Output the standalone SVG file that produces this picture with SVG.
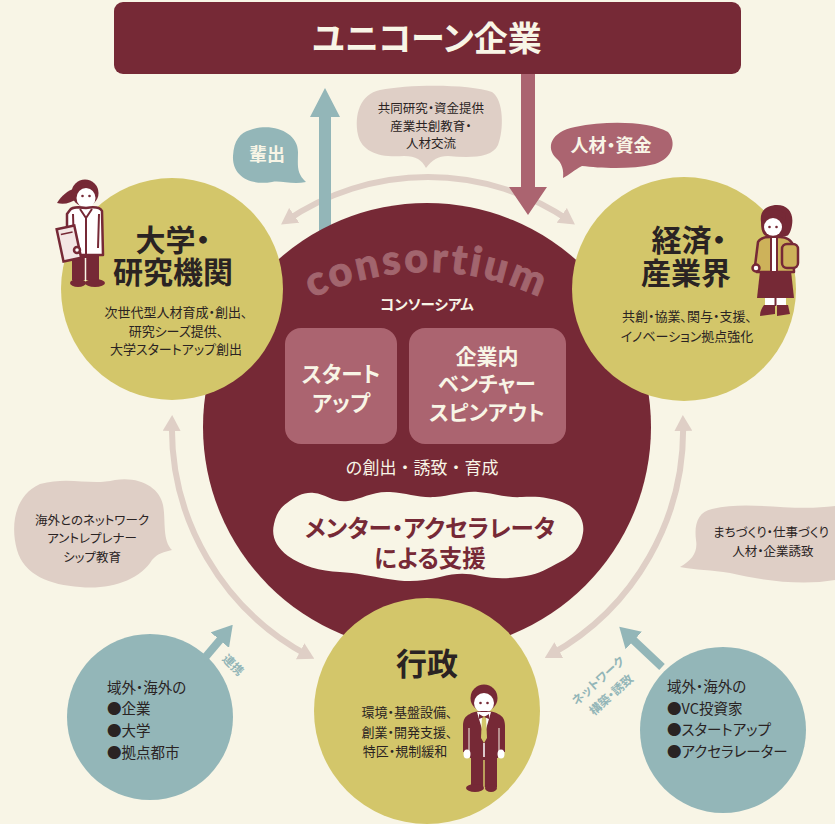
<svg xmlns="http://www.w3.org/2000/svg" width="835" height="824" viewBox="0 0 835 824">
  <style>
    .jp { font-family: "Noto Sans CJK JP", "Noto Sans CJK SC", sans-serif; font-feature-settings: "palt"; }
    .b { font-weight: 700; }
    .dark { fill: #2a2323; }
    .cream { fill: #f8f5e6; }
    .small { font-size: 13px; }
    .bub { font-size: 12.5px; }
    .title { font-size: 30px; font-weight: 700; }
    .mid { text-anchor: middle; }
    .teal-t { fill: #93b6b8; font-size: 12px; font-weight: 700; }
    .list { font-size: 14.5px; }
    .arc { fill: none; stroke: #dfcfc6; stroke-width: 6; }
    .maroon { fill: #762936; }
    .white { fill: #ffffff; }
    .ol { stroke: #762936; stroke-width: 2.5; stroke-linejoin: round; }
  </style>
  <defs>
    <marker id="beigeHead" viewBox="0 0 16 18" refX="10" refY="9" markerWidth="16" markerHeight="18" markerUnits="userSpaceOnUse" orient="auto-start-reverse">
      <path d="M0,0 L16,9 L0,18 Z" fill="#dfcfc6"/>
    </marker>
    <marker id="tealHead" viewBox="0 0 20 24" refX="8" refY="12" markerWidth="20" markerHeight="24" markerUnits="userSpaceOnUse" orient="auto">
      <path d="M0,0 L20,12 L0,24 Z" fill="#93b6b8"/>
    </marker>
    <path id="consortiumArc" d="M 250 340 A 264 264 0 0 1 604 340"/>
  </defs>

  <rect width="835" height="824" fill="#f8f5e6"/>

  <!-- connectors -->
  <g id="connectors">
    <path class="arc" d="M 286 221 A 251 251 0 0 1 570 221" marker-start="url(#beigeHead)" marker-end="url(#beigeHead)"/>
    <path class="arc" d="M 172 421 A 258 258 0 0 0 309 656" marker-start="url(#beigeHead)" marker-end="url(#beigeHead)"/>
    <path class="arc" d="M 683 421 A 258 258 0 0 1 550 655" marker-start="url(#beigeHead)" marker-end="url(#beigeHead)"/>
    <!-- 輩出 upward arrow -->
    <path d="M 319 240 L 319 117 L 310 117 L 325 88 L 340 117 L 331 117 L 331 240 Z" fill="#93b6b8"/>
    <!-- 人材・資金 downward arrow -->
    <path d="M 521 70 L 521 187 L 509 187 L 528 215 L 547 187 L 535 187 L 535 70 Z" fill="#ab6470"/>
  </g>

  <!-- speech bubbles -->
  <g id="bubble-hai">
    <path d="M 250 130 C 272 122, 298 132, 298 152 C 298 165, 296 173, 306 182 C 292 185, 280 180, 272 182 C 250 186, 232 176, 233 156 C 234 140, 240 133, 250 130 Z" fill="#93b6b8"/>
    <text class="jp b cream mid" x="267" y="161" font-size="18">輩出</text>
  </g>
  <g id="bubble-kyodo">
    <path d="M 380 90 C 410 84, 470 84, 492 92 C 504 100, 504 130, 498 145 C 492 158, 470 158, 448 156 C 438 156, 432 160, 426 168 C 422 160, 416 156, 404 156 C 380 158, 362 152, 358 135 C 354 115, 360 94, 380 90 Z" fill="#dfcfc6"/>
    <text class="jp dark mid bub" x="431" y="113">共同研究・資金提供</text>
    <text class="jp dark mid bub" x="431" y="131">産業共創教育・</text>
    <text class="jp dark mid bub" x="431" y="148">人材交流</text>
  </g>
  <g id="bubble-jinzai">
    <path d="M 575 127 C 610 120, 650 122, 668 132 C 677 142, 673 158, 655 164 C 630 170, 600 168, 582 166 C 574 170, 569 175, 563 178 C 564 170, 562 163, 556 158 C 546 148, 550 132, 575 127 Z" fill="#ab6470"/>
    <text class="jp b cream mid" x="611" y="152" font-size="18">人材・資金</text>
  </g>
  <g id="bubble-kaigai">
    <path d="M 40 484 C 70 476, 90 486, 115 480 C 140 476, 160 488, 163 505 C 166 520, 162 540, 172 550 C 164 552, 158 553, 152 560 C 140 580, 110 590, 80 587 C 50 585, 24 575, 17 550 C 10 525, 15 495, 40 484 Z" fill="#dfcfc6"/>
    <text class="jp dark mid bub" x="92" y="525">海外とのネットワーク</text>
    <text class="jp dark mid bub" x="92" y="543">アントレプレナー</text>
    <text class="jp dark mid bub" x="92" y="562">シップ教育</text>
  </g>
  <g id="bubble-machi">
    <path d="M 712 509 C 750 500, 790 512, 835 506 L 835 580 C 800 586, 760 580, 730 573 C 712 570, 695 570, 680 567 C 692 560, 698 552, 696 540 C 694 524, 698 512, 712 509 Z" fill="#dfcfc6"/>
    <text class="jp dark mid bub" x="771" y="537">まちづくり・仕事づくり</text>
    <text class="jp dark mid bub" x="773" y="556">人材・企業誘致</text>
  </g>

  <!-- top node -->
  <g id="unicorn">
    <rect x="114" y="2" width="627" height="72" rx="9" fill="#762936"/>
    <text class="jp b cream mid" x="427" y="51" font-size="34">ユニコーン企業</text>
  </g>

  <!-- consortium -->
  <g id="consortium">
    <circle cx="427" cy="427" r="224" fill="#762936"/>
    <text font-family="Lato, 'Noto Sans', sans-serif" font-weight="900" font-size="41" letter-spacing="3" fill="#a2656e" stroke="#a2656e" stroke-width="1" text-anchor="middle"><textPath href="#consortiumArc" startOffset="50%">consortium</textPath></text>
    <text class="jp b cream mid" x="427" y="310" font-size="14.5">コンソーシアム</text>
    <g id="startup">
      <rect x="285" y="328" width="112" height="116" rx="16" fill="#ab6470"/>
      <text class="jp b cream mid" x="341" y="382" font-size="21.5">スタート</text>
      <text class="jp b cream mid" x="341" y="411" font-size="21.5">アップ</text>
    </g>
    <g id="spinout">
      <rect x="409" y="328" width="157" height="116" rx="16" fill="#ab6470"/>
      <text class="jp b cream mid" x="487" y="364" font-size="21">企業内</text>
      <text class="jp b cream mid" x="487" y="391" font-size="21">ベンチャー</text>
      <text class="jp b cream mid" x="487" y="420" font-size="21">スピンアウト</text>
    </g>
    <text class="jp cream mid" x="422" y="474" font-size="17" style="font-feature-settings: normal">の創出・誘致・育成</text>
    <g id="mentor">
      <path d="M 287 503 C 296 496, 304 492, 314 493 C 326 494, 334 503, 348 501 C 362 499, 372 491, 390 492 C 408 493, 418 498, 435 497 C 452 496, 462 491, 478 492 C 494 493, 504 498, 522 497 C 540 496, 550 498, 562 502 C 578 508, 585 520, 583 533 C 581 548, 572 556, 560 562 C 548 568, 540 574, 526 576 C 508 579, 496 579, 480 576 C 466 573, 456 573, 440 577 C 422 582, 404 582, 388 579 C 370 576, 356 573, 340 572 C 320 571, 302 566, 288 556 C 276 547, 271 536, 274 524 C 276 514, 280 508, 287 503 Z" fill="#f8f5e6"/>
      <text class="jp b mid" x="430" y="537" font-size="23.5" fill="#762936">メンター・アクセラレータ</text>
      <text class="jp b mid" x="430" y="567" font-size="23.5" fill="#762936">による支援</text>
    </g>
  </g>

  <!-- 大学・研究機関 -->
  <g id="university">
    <circle cx="172" cy="289" r="111" fill="#d3c66a"/>
    <text class="jp dark title mid" x="173" y="251">大学・</text>
    <text class="jp dark title mid" x="173" y="283">研究機関</text>
    <text class="jp dark mid small" x="176" y="317">次世代型人材育成・創出、</text>
    <text class="jp dark mid small" x="176" y="336">研究シーズ提供、</text>
    <text class="jp dark mid small" x="176" y="354">大学スタートアップ創出</text>
    <!-- researcher with clipboard -->
    <g id="researcher">
      <path class="maroon" d="M 76 188 C 68 190, 61 196, 57 203 C 64 205, 71 203, 78 198 Z"/>
      <circle class="maroon" cx="85" cy="193" r="13.5"/>
      <ellipse class="white" cx="86" cy="198" rx="9.5" ry="10"/>
      <path class="maroon" d="M 75 193 C 80 186, 92 186, 97 194 L 97 188 C 92 182, 80 182, 75 188 Z"/>
      <circle class="maroon" cx="82.5" cy="196" r="1.3"/>
      <circle class="maroon" cx="89.5" cy="196" r="1.3"/>
      <path class="white ol" d="M 70 210 C 72 207, 80 207, 86 208 C 92 207, 100 207, 102 211 L 103 255 L 67 255 L 67 214 Z"/>
      <path d="M 80 209 L 86 218 L 92 209 M 86 218 L 86 254 M 73 214 L 74 248 M 99 214 L 98 248" fill="none" stroke="#762936" stroke-width="2"/>
      <path class="maroon" d="M 72 255 L 99 255 L 99 280 L 72 280 Z"/>
      <line x1="85.5" y1="258" x2="85.5" y2="281" stroke="#f8f5e6" stroke-width="1.5"/>
      <ellipse class="maroon" cx="78" cy="283" rx="8" ry="4"/>
      <ellipse class="maroon" cx="95" cy="283" rx="10" ry="4"/>
      <g transform="rotate(-12 69 244)">
        <rect x="60" y="227" width="18" height="33" fill="#f3e6e4" stroke="#762936" stroke-width="2.5"/>
        <line x1="63" y1="233" x2="75" y2="233" stroke="#762936" stroke-width="1.5"/>
      </g>
      <circle class="white ol" cx="77" cy="250" r="3" stroke-width="1.5"/>
    </g>
  </g>

  <!-- 経済・産業界 -->
  <g id="industry">
    <circle cx="684" cy="289" r="112" fill="#d3c66a"/>
    <text class="jp dark title mid" x="689" y="251">経済・</text>
    <text class="jp dark title mid" x="686" y="284">産業界</text>
    <text class="jp dark mid small" x="687" y="321">共創・協業、関与・支援、</text>
    <text class="jp dark mid small" x="687" y="341">イノベーション拠点強化</text>
    <!-- businesswoman with bag -->
    <g id="businesswoman">
      <path class="maroon" d="M 761 222 C 759 209, 769 205, 777 205 C 788 205, 794 213, 792 225 C 791 231, 789 236, 786 236 L 766 236 C 762 234, 761 229, 761 222 Z"/>
      <ellipse class="white" cx="773" cy="227" rx="9" ry="9"/>
      <path class="maroon" d="M 763 222 C 767 214, 781 213, 785 221 L 786 215 C 781 208, 767 208, 762 215 Z"/>
      <circle class="maroon" cx="769.5" cy="227" r="1.3"/>
      <circle class="maroon" cx="776.5" cy="227" r="1.3"/>
      <path d="M 758 242 C 760 238, 766 237, 770 237 L 780 237 C 786 237, 792 240, 793 246 L 794 272 L 757 272 L 755 266 Z" fill="#cdb25a" class="ol"/>
      <rect x="771" y="238" width="6" height="34" fill="#ffffff"/>
      <line x1="771" y1="238" x2="771" y2="272" stroke="#762936" stroke-width="2"/>
      <line x1="777" y1="238" x2="777" y2="272" stroke="#762936" stroke-width="2"/>
      <rect x="782" y="244" width="16" height="24" rx="5" fill="#cdb25a" class="ol"/>
      <circle class="white ol" cx="756" cy="268" r="3.5" stroke-width="1.8"/>
      <path class="maroon" d="M 760 271 L 791 271 L 794 298 L 757 298 Z"/>
      <rect x="765" y="298" width="21" height="8" fill="#ffffff"/>
      <line x1="775.5" y1="298" x2="775.5" y2="306" stroke="#762936" stroke-width="2"/>
      <path class="maroon" d="M 764 305 L 775 305 L 775 314 L 760 316 C 760 311, 762 308, 764 305 Z"/>
      <path class="maroon" d="M 777 305 L 788 305 L 790 314 L 777 316 Z"/>
    </g>
  </g>

  <!-- 行政 -->
  <g id="government">
    <circle cx="427" cy="711" r="113" fill="#d3c66a"/>
    <text class="jp dark mid" x="427" y="675" font-size="31" font-weight="700">行政</text>
    <text class="jp dark mid small" x="407" y="717">環境・基盤設備、</text>
    <text class="jp dark mid small" x="407" y="737">創業・開発支援、</text>
    <text class="jp dark mid small" x="405" y="756">特区・規制緩和</text>
    <!-- official in suit -->
    <g id="official">
      <circle class="maroon" cx="484" cy="698" r="13.5"/>
      <ellipse class="white" cx="484" cy="703" rx="10" ry="10"/>
      <path class="maroon" d="M 473 700 C 476 690, 492 690, 495 700 L 496 693 C 492 685, 476 685, 472 693 Z"/>
      <circle class="maroon" cx="480.5" cy="703" r="1.3"/>
      <circle class="maroon" cx="487.5" cy="703" r="1.3"/>
      <path class="maroon" d="M 470 714 C 472 712, 478 711, 484 711 C 490 711, 496 712, 498 714 C 503 716, 505 720, 505 726 L 505 752 L 499 752 L 498 758 L 470 758 L 469 752 L 463 752 L 463 726 C 463 720, 465 716, 470 714 Z"/>
      <path class="white" d="M 477 712 L 491 712 L 484 736 Z"/>
      <path d="M 482 716 L 486 716 L 487 738 L 484 743 L 481 738 Z" fill="#d3c66a"/>
      <path d="M 479 714 L 484 717 L 489 714 L 489 719 L 484 717 L 479 719 Z" fill="#762936"/>
      <line x1="484" y1="743" x2="484" y2="758" stroke="#ffffff" stroke-width="1.5"/>
      <line x1="469" y1="728" x2="469" y2="752" stroke="#f8f5e6" stroke-width="1"/>
      <line x1="499" y1="728" x2="499" y2="752" stroke="#f8f5e6" stroke-width="1"/>
      <ellipse class="white" cx="467" cy="754" rx="3.5" ry="4.5"/>
      <ellipse class="white" cx="501" cy="754" rx="3.5" ry="4.5"/>
      <rect class="maroon" x="471" y="757" width="26" height="30"/>
      <line x1="484" y1="760" x2="484" y2="787" stroke="#d3c66a" stroke-width="1.5"/>
      <ellipse class="maroon" cx="475" cy="788" rx="9" ry="4"/>
      <ellipse class="maroon" cx="491" cy="788" rx="6" ry="4"/>
    </g>
  </g>

  <!-- 域外・海外（企業・大学・拠点都市） -->
  <g id="outside-left">
    <circle cx="150" cy="717" r="83" fill="#93b6b8"/>
    <text class="jp dark list" x="107" y="693">域外・海外の</text>
    <text class="jp dark list" x="107" y="714">●企業</text>
    <text class="jp dark list" x="107" y="736">●大学</text>
    <text class="jp dark list" x="107" y="758">●拠点都市</text>
  </g>
  <line x1="203" y1="660" x2="225" y2="634" stroke="#93b6b8" stroke-width="8" marker-end="url(#tealHead)"/>
  <text class="jp teal-t" transform="translate(230 668) rotate(45)" text-anchor="middle">連携</text>

  <!-- 域外・海外（VC投資家・スタートアップ・アクセラレーター） -->
  <g id="outside-right">
    <circle cx="723" cy="730" r="83" fill="#93b6b8"/>
    <text class="jp dark list" x="667" y="692">域外・海外の</text>
    <text class="jp dark list" x="667" y="714">●VC投資家</text>
    <text class="jp dark list" x="667" y="735">●スタートアップ</text>
    <text class="jp dark list" x="667" y="757">●アクセラレーター</text>
  </g>
  <line x1="662" y1="667" x2="628" y2="635" stroke="#93b6b8" stroke-width="8" marker-end="url(#tealHead)"/>
  <text class="jp teal-t" transform="translate(601 684) rotate(-42)" text-anchor="middle">ネットワーク</text>
  <text class="jp teal-t" transform="translate(614 698) rotate(-42)" text-anchor="middle">構築・誘致</text>
</svg>
